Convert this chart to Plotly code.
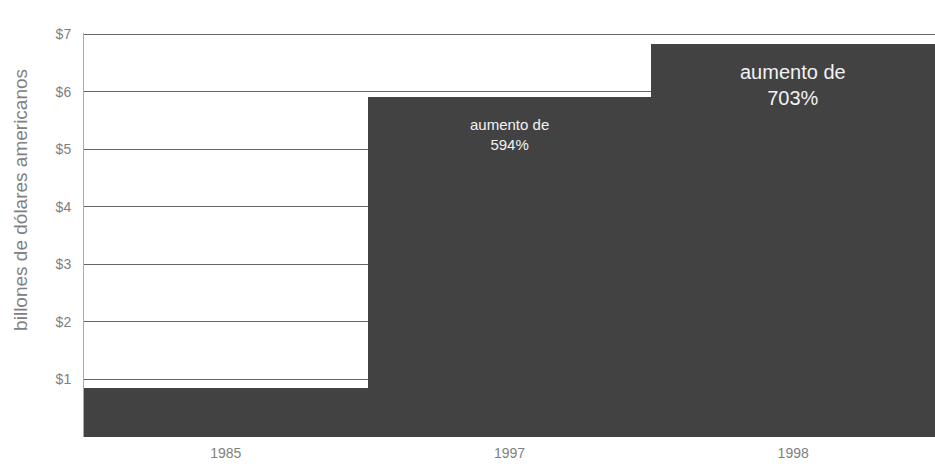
import plotly.graph_objects as go

years = ["1985", "1997", "1998"]
values = [0.85, 5.9, 6.83]
notes = ["", "aumento de<br>594%", "aumento de<br>703%"]
note_y = [0, 5.25, 6.12]
tick_vals = [1, 2, 3, 4, 5, 6, 7]
tick_text = ["$1", "$2", "$3", "$4", "$5", "$6", "$7"]
y_title = "billones de dólares americanos"

note_sizes = [0, 15, 20]
FONT = "Liberation Sans, Arial, sans-serif"

fig = go.Figure()
fig.add_trace(go.Bar(
    x=years, y=values,
    marker=dict(color="#424242", line=dict(width=0)),
    hoverinfo="x+y",
))

for i, (txt, ny) in enumerate(zip(notes, note_y)):
    if txt:
        fig.add_annotation(x=i, y=ny, text=txt, showarrow=False,
                           font=dict(color="#f2f2f2", size=note_sizes[i], family=FONT),
                           xref="x", yref="y", align="center")

fig.add_annotation(x=-0.074, y=0.587, xref="paper", yref="paper", text=y_title,
                   textangle=-90, showarrow=False, xanchor="center", yanchor="middle",
                   font=dict(color="#808080", size=19, family=FONT))

fig.update_layout(
    width=935, height=471,
    margin=dict(l=84, r=0, t=33, b=34),
    paper_bgcolor="white", plot_bgcolor="white",
    bargap=0,
    showlegend=False,
    font=dict(family=FONT, color="#808080", size=14),
)
fig.update_yaxes(range=[0, 7.02], tickvals=tick_vals, ticktext=tick_text,
                 showgrid=True, gridcolor="#666666", gridwidth=1,
                 showline=True, linecolor="#aaaaaa", linewidth=1,
                 ticks="", ticklabelstandoff=9, zeroline=False)
fig.update_xaxes(type="category", range=[-0.5, 2.5], showline=False, ticks="",
                 showgrid=False, ticklabelstandoff=6)

fig.write_html("out.html",
               config={"displayModeBar": False},
               post_script="document.body.style.margin='0px';document.body.style.overflow='hidden';")
